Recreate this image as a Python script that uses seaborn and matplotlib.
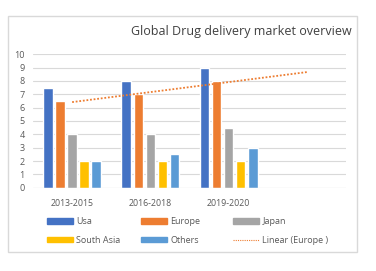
import matplotlib

matplotlib.use("Agg")
import matplotlib.pyplot as plt
import numpy as np
import pandas as pd
import seaborn as sns
from matplotlib.lines import Line2D
from matplotlib.patches import Rectangle

periods = ["2013-2015", "2016-2018", "2019-2020"]
regions = ["Usa", "Europe", "Japan", "South Asia", "Others"]
usa = [7.5, 8, 9]
europe = [6.5, 7, 8]
japan = [4, 4, 4.5]
south_asia = [2, 2, 2]
others = [2, 2.5, 3]
colors = ["#4472C4", "#ED7D31", "#A5A5A5", "#FFC000", "#5B9BD5"]

rows = []
for region, vals in zip(regions, [usa, europe, japan, south_asia, others]):
    for p, v in zip(periods, vals):
        rows.append({"period": p, "region": region, "value": v})
df = pd.DataFrame(rows)

sns.set_style("white")
plt.rcParams["font.family"] = ["Open Sans", "DejaVu Sans"]

fig = plt.figure(figsize=(3.76, 2.71), dpi=100)
ax = fig.add_axes([33 / 376, 1 - 187.7 / 271, 313 / 376, 133.4 / 271])

order = periods + [" "]
sns.barplot(
    data=df, x="period", y="value", hue="region", order=order,
    hue_order=regions, palette=colors, width=0.77, gap=0.2,
    ax=ax, legend=False, saturation=1,
)

# linear trend of Europe, extended one period ahead (like Excel)
xs = np.arange(len(europe))
slope, icpt = np.polyfit(xs, europe, 1)
tx = np.array([0, 3])
ax.plot(tx, slope * tx + icpt, color="#ED7D31", ls=(0, (1, 1)), lw=1.3)

ax.set_ylim(0, 10)
ax.set_xlim(-0.5, 3.5)
ax.set_yticks(range(0, 11))
ax.yaxis.grid(True, color="#D9D9D9", lw=0.8)
ax.set_axisbelow(True)
for s in ax.spines.values():
    s.set_visible(False)
ax.axhline(0, color="#D9D9D9", lw=0.8)
ax.tick_params(axis="both", length=0, labelsize=6.5, colors="#595959", pad=6)
ax.tick_params(axis="x", labelsize=6.3, pad=8)
ax.set_xlabel("")
ax.set_ylabel("")

fig.text(0.935, 1 - 31 / 271, "Global Drug delivery market overview",
         ha="right", va="center", fontsize=9.0, color="#404040")

# legend: three fixed-width columns, row-major order like Excel
handles = [Rectangle((0, 0), 1, 1, color=c) for c in colors]
trend = Line2D([], [], color="#ED7D31", ls=(0, (1, 1)), lw=0.8)
columns = [
    ([handles[0], handles[3]], ["Usa", "South Asia"], 43),
    ([handles[1], handles[4]], ["Europe", "Others"], 137),
    ([handles[2], trend], ["Japan", "Linear (Europe )"], 229),
]
for hl, lab, x0 in columns:
    fig.legend(hl, lab, loc="upper left", bbox_to_anchor=(x0 / 376, 1 - 213.5 / 271),
               frameon=False, fontsize=6.5, handlelength=2.9, handleheight=0.55,
               handletextpad=0.4, labelspacing=1.05, labelcolor="#595959",
               borderaxespad=0)

fig.patches.append(Rectangle((8 / 376, 1 - 252 / 271), 349 / 376, 236 / 271,
                             transform=fig.transFigure, fill=False,
                             edgecolor="#D9D9D9", lw=1))

fig.savefig("out.png", dpi=100)
